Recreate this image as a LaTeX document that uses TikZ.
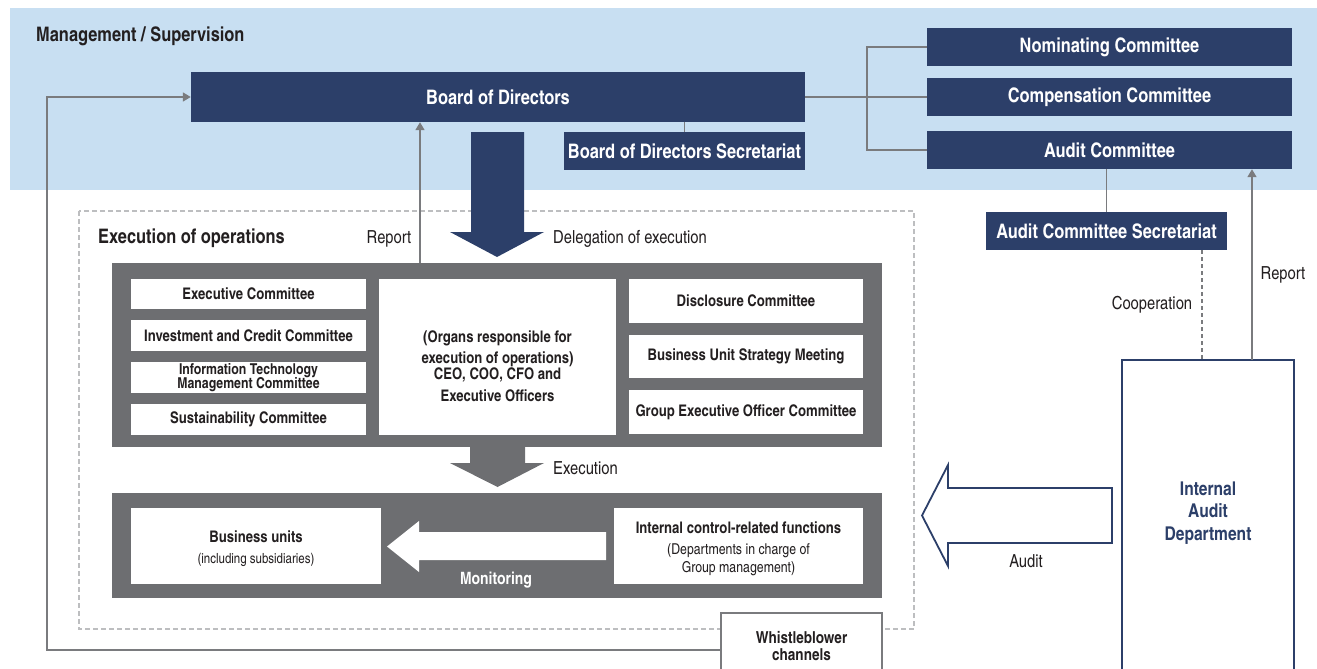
\documentclass[tikz,border=0pt]{standalone}
\usepackage{fontspec}
\setmainfont{texgyreheroscn}[Extension=.otf, UprightFont=*-regular, BoldFont=*-bold, ItalicFont=*-italic, BoldItalicFont=*-bolditalic]
\usetikzlibrary{arrows.meta}
\definecolor{navy}{HTML}{2C3F69}
\definecolor{band}{HTML}{C8DFF2}
\definecolor{dgray}{HTML}{6D6E71}
\definecolor{lgray}{HTML}{7A7B7E}
\definecolor{dashc}{HTML}{BDBEC0}
\definecolor{txt}{HTML}{231F20}
\newcommand{\mytightls}{\lineskiplimit=-20pt\relax}
\tikzset{
  navybox/.style={fill=navy, text=white, font=\bfseries\fontsize{20}{22}\selectfont, inner sep=0pt, align=center},
  wbox/.style={fill=white, text=txt, font={\bfseries\fontsize{16}{14}\selectfont\mytightls}, inner sep=0pt, align=center},
  graybox/.style={fill=dgray, inner sep=0pt},
  lbl/.style={text=txt, font=\fontsize{18}{20}\selectfont, inner sep=0pt},
  conn/.style={draw=lgray, line width=1.6pt},
  arr/.style={conn, -{Triangle[length=8pt,width=9pt]}},
}
\begin{document}
\begin{tikzpicture}[x=1pt,y=-1pt]
\useasboundingbox (0,0) rectangle (1317,669);
% band
\fill[band] (10,8) rectangle (1317,190);
\node[anchor=west, text=txt, font=\bfseries\fontsize{20}{22}\selectfont, inner sep=0pt] (mgmt) at (36,36) {Management / Supervision};

% board area
\node[navybox, minimum width=614pt, minimum height=50pt] (board) at (498,97) {Board of Directors};
\node[navybox, minimum width=241pt, minimum height=38pt] (bsec) at (684.5,151) {Board of Directors Secretariat};
\draw[conn] (bsec.north) -- (bsec.north |- board.south);

\node[navybox, minimum width=365pt, minimum height=38pt] (nom) at (1109.5,47) {Nominating Committee};
\node[navybox, minimum width=365pt, minimum height=38pt] (comp) at (1109.5,97) {Compensation Committee};
\node[navybox, minimum width=365pt, minimum height=38pt] (audc) at (1109.5,150) {Audit Committee};
\coordinate (jx) at (867,0);
\draw[conn] (board.east) -- (comp.west);
\draw[conn] (nom.west) -- (nom.west -| jx) -- (audc.west -| jx) -- (audc.west);

\node[navybox, minimum width=241pt, minimum height=38pt] (acsec) at (1106.5,231) {Audit Committee Secretariat};
\draw[conn] (acsec.north) -- (acsec.north |- audc.south);

% internal audit
\node[text=navy, font=\bfseries\fontsize{19}{22.5}\selectfont, align=center, inner sep=0pt, minimum width=172pt, minimum height=306pt] (iad) at (1208,513) {Internal\\Audit\\Department};
\draw[navy, line width=2pt] ([yshift=-20pt]iad.south west) -- (iad.north west) -- (iad.north east) -- ([yshift=-20pt]iad.south east);

\coordinate (rp) at (1252,0);
\coordinate (cp) at (1202,0);
\draw[arr] (iad.north -| rp) -- (audc.south -| rp);
\draw[conn, line width=1.3pt, dash pattern=on 4pt off 3pt] (acsec.south -| cp) -- (iad.north -| cp);
\node[lbl] (lrep2) at (1283,275) {Report};
\node[lbl] (lcoop) at (1152,305) {Cooperation};

% audit arrow
\draw[navy, fill=white, line width=1.8pt, line join=miter] (1112,488) -- (948,488) -- (948,465) -- (922,515.5) -- (948,566) -- (948,543) -- (1112,543) -- cycle;
\node[lbl] (laud) at (1026,561) {Audit};

% execution of operations dashed frame
\draw[dashc, line width=1.3pt, dash pattern=on 5pt off 3pt] (79,211) rectangle (914,629);
\node[anchor=west, text=txt, font=\bfseries\fontsize{20}{22}\selectfont, inner sep=0pt] (exop) at (98,238) {Execution of operations};

% gray box 1
\node[graybox, minimum width=770pt, minimum height=184pt] (g1) at (497,355) {};
\node[lbl] (lrep1) at (389,239) {Report};
\coordinate (rl) at (420,0);
\draw[arr] (g1.north -| rl) -- (board.south -| rl);

% delegation arrow
\fill[navy] (471,132) -- (524,132) -- (524,232) -- (544,232) -- (497,257) -- (450,232) -- (471,232) -- cycle;
\node[lbl, anchor=west] (ldel) at (553,239) {Delegation of execution};

\node[wbox, minimum width=235pt, minimum height=30pt] (exc) at (248.5,294) {Executive Committee};
\node[wbox, minimum width=235pt, minimum height=31pt] (inv) at (248.5,335.5) {Investment and Credit Committee};
\node[wbox, minimum width=235pt, minimum height=31pt, font={\bfseries\fontsize{15}{13.5}\selectfont\mytightls}] (itm) at (248.5,377.5) {Information Technology\\Management Committee};
\node[wbox, minimum width=235pt, minimum height=31pt] (sus) at (248.5,419.5) {Sustainability Committee};
\node[wbox, minimum width=237pt, minimum height=156pt] (ceo) at (497.5,357) {};
\node[text=txt, inner sep=0pt, align=center, font=\bfseries\fontsize{16}{21.5}\selectfont] (ceot) at ([yshift=-9pt]ceo.center) {(Organs responsible for\\execution of operations)\\[-5.5pt]CEO, COO, CFO and\\Executive Officers};
\node[wbox, minimum width=234pt, minimum height=44pt] (dis) at (746,301) {Disclosure Committee};
\node[wbox, minimum width=234pt, minimum height=43pt] (bus) at (746,356.5) {Business Unit Strategy Meeting};
\node[wbox, minimum width=234pt, minimum height=44pt] (grp) at (746,412) {Group Executive Officer Committee};

% execution arrow
\fill[dgray] (470,447) -- (525,447) -- (525,463) -- (544,463) -- (497.5,487) -- (450,463) -- (470,463) -- cycle;
\node[lbl, anchor=west] (lexe) at (553,468) {Execution};

% gray box 2
\node[graybox, minimum width=770pt, minimum height=105pt] (g2) at (497,545.5) {};
\node[wbox, minimum width=250pt, minimum height=76pt] (bu) at (256,546) {};
\node[text=txt, inner sep=0pt, align=center, font=\fontsize{14}{21}\selectfont] (but) at ([yshift=-3pt]bu.center) {\textbf{\fontsize{16}{21}\selectfont Business units}\\(including subsidiaries)};
\node[wbox, minimum width=249pt, minimum height=76pt] (icf) at (738.5,546) {};
\node[text=txt, inner sep=0pt, align=center, font=\fontsize{15}{18}\selectfont] (icft) at ([yshift=-3pt]icf.center) {\textbf{\fontsize{16}{18}\selectfont Internal control-related functions}\\[3pt](Departments in charge of\\Group management)};
\fill[white] (606,532) -- (419,532) -- (419,521) -- (387,546.5) -- (419,572) -- (419,560) -- (606,560) -- cycle;
\node[text=white, font=\bfseries\fontsize{17}{19}\selectfont, inner sep=0pt] (lmon) at (496,580) {Monitoring};

% whistleblower
\node[wbox, draw=lgray, line width=1.4pt, minimum width=161pt, minimum height=66pt, font=\bfseries\fontsize{16.5}{17}\selectfont] (wb) at (801.5,646) {Whistleblower\\channels};
\coordinate (wl) at (47,650);
\draw[arr] (wb.west |- wl) -- (wl) |- (board.west);
\end{tikzpicture}
\end{document}
